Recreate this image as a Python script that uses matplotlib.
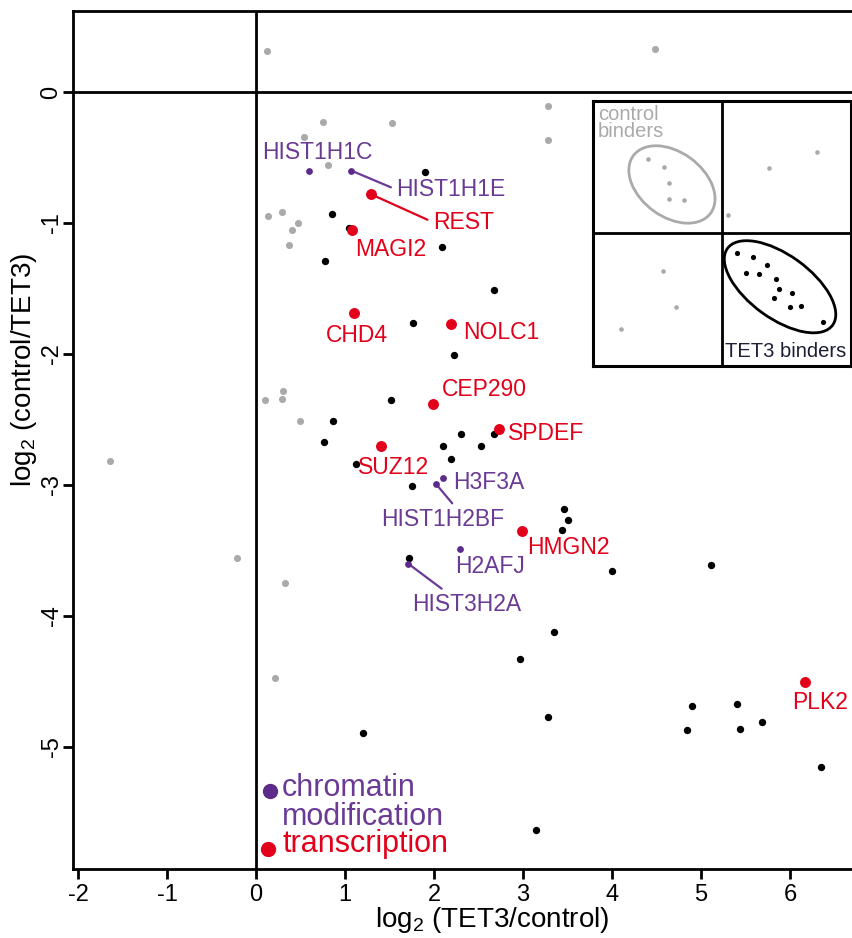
import matplotlib
matplotlib.use('Agg')
import matplotlib.pyplot as plt
from matplotlib.patches import Ellipse

plt.rcParams['font.family'] = ['Liberation Sans', 'DejaVu Sans']
plt.rcParams['axes.unicode_minus'] = False

# control binders (grey)
ctrl_x = [0.12, 0.75, 1.53, 0.54, 0.81, 0.13, 0.29, 0.47, 0.40, 0.37, 0.10, 0.30, 0.29,
          0.50, -1.64, 4.48, 3.28, 3.28, -0.21, 0.33, 0.21]
ctrl_y = [0.31, -0.23, -0.24, -0.34, -0.56, -0.95, -0.92, -1.00, -1.05, -1.17, -2.35, -2.28,
          -2.34, -2.51, -2.82, 0.33, -0.11, -0.37, -3.56, -3.75, -4.47]

# TET3 binders (black)
tet3_x = [1.90, 0.85, 1.04, 0.78, 2.09, 2.67, 1.76, 2.22, 1.52, 0.86, 0.76, 1.12, 2.30, 2.10,
          2.53, 2.67, 2.19, 1.75, 1.72, 1.20, 3.46, 3.51, 3.44, 4.00, 5.11, 3.35, 2.97, 3.28,
          4.90, 5.40, 5.69, 4.84, 5.44, 6.35, 3.15]
tet3_y = [-0.61, -0.93, -1.04, -1.29, -1.18, -1.51, -1.76, -2.01, -2.35, -2.51, -2.67, -2.84,
          -2.61, -2.70, -2.70, -2.61, -2.80, -3.01, -3.56, -4.89, -3.18, -3.27, -3.34, -3.66,
          -3.61, -4.12, -4.33, -4.77, -4.69, -4.67, -4.81, -4.87, -4.86, -5.15, -5.63]

# chromatin modification
chrom_genes = ['HIST1H1C', 'HIST1H1E', 'H3F3A', 'HIST1H2BF', 'H2AFJ', 'HIST3H2A']
chrom_x = [0.60, 1.07, 2.10, 2.02, 2.29, 1.71]
chrom_y = [-0.60, -0.60, -2.95, -2.99, -3.49, -3.60]

# transcription
trans_genes = ['REST', 'MAGI2', 'CHD4', 'NOLC1', 'CEP290', 'SPDEF', 'SUZ12', 'HMGN2', 'PLK2']
trans_x = [1.29, 1.08, 1.10, 2.19, 1.99, 2.73, 1.41, 2.99, 6.17]
trans_y = [-0.78, -1.05, -1.69, -1.77, -2.38, -2.57, -2.70, -3.35, -4.50]

# inset schematic
inset_ctrl_x = [0.424, 0.550, 0.592, 0.589, 0.703, 1.367, 1.739, 1.049, 0.545, 0.641, 0.214]
inset_ctrl_y = [1.562, 1.502, 1.381, 1.263, 1.251, 1.492, 1.613, 1.137, 0.717, 0.443, 0.279]
inset_tet3_x = [1.119, 1.240, 1.351, 1.183, 1.289, 1.419, 1.442, 1.540, 1.406, 1.530, 1.610, 1.781]
inset_tet3_y = [0.851, 0.820, 0.760, 0.704, 0.694, 0.659, 0.579, 0.551, 0.513, 0.443, 0.450, 0.334]

RED = '#e2001a'
PURPLE = '#6a3a95'
PURPLE_DOT = '#5c2a88'
GREY = '#aaaaaa'

# label placement: offset in pixels, ha, leader relpos (None = no leader)
label_pos = {
    'HIST1H1C': (8, 18, 'center', None),
    'HIST1H1E': (45, -19, 'left', (0, 0.5)),
    'H3F3A': (10, -4, 'left', None),
    'HIST1H2BF': (7, -36, 'center', (0.61, 1.0)),
    'H2AFJ': (30, -17, 'center', None),
    'HIST3H2A': (59, -41, 'center', (0.32, 1.0)),
    'REST': (62, -28, 'left', (0, 0.5)),
    'MAGI2': (3, -20, 'left', None),
    'CHD4': (3, -22, 'center', None),
    'NOLC1': (12, -9, 'left', None),
    'CEP290': (9, 14, 'left', None),
    'SPDEF': (9, -5, 'left', None),
    'SUZ12': (12, -22, 'center', None),
    'HMGN2': (5, -17, 'left', None),
    'PLK2': (15, -21, 'center', None),
}

fig = plt.figure(figsize=(8.53, 9.38), dpi=100)
ax = fig.add_axes([73 / 853, 1 - 869 / 938, 780 / 853, 858 / 938])

ax.scatter(ctrl_x, ctrl_y, s=26, color=GREY, linewidths=0, zorder=2)
ax.scatter(tet3_x, tet3_y, s=28, color='black', linewidths=0, zorder=2)
ax.scatter(chrom_x, chrom_y, s=24, color=PURPLE_DOT, linewidths=0, zorder=4)
ax.scatter(trans_x, trans_y, s=62, color=RED, linewidths=0, zorder=4)


def put_labels(genes, xs, ys, color):
    for g, x, y in zip(genes, xs, ys):
        dx, dy, ha, rel = label_pos[g]
        arrow = None
        if rel is not None:
            arrow = dict(arrowstyle='-', color=color, lw=1.6, shrinkA=2, shrinkB=0, relpos=rel)
        ax.annotate(g, (x, y), xytext=(dx, dy), textcoords='offset pixels', ha=ha, va='center',
                    color=color, fontsize=16.5, arrowprops=arrow, zorder=3)


put_labels(chrom_genes, chrom_x, chrom_y, PURPLE)
put_labels(trans_genes, trans_x, trans_y, RED)

ax.axhline(0, color='black', lw=2, zorder=1)
ax.axvline(0, color='black', lw=2, zorder=1)

ax.set_xlim(-2.056, 6.708)
ax.set_ylim(-5.931, 0.618)
ax.set_xticks(range(-2, 7))
ax.set_yticks(range(-5, 1))
ax.tick_params(direction='out', length=7, width=2, labelsize=17)
ax.tick_params(axis='y', labelrotation=90, pad=0.5)
for lab in ax.get_yticklabels():
    lab.set_va('center')
ax.spines['right'].set_visible(False)
for s in ['left', 'bottom', 'top']:
    ax.spines[s].set_linewidth(2)

fig.text(24 / 853, 1 - 370 / 938, r'log$_\mathregular{2}$ (control/TET3)', rotation=90,
         ha='center', va='center', fontsize=20)
fig.text(492 / 853, 1 - 920 / 938, r'log$_\mathregular{2}$ (TET3/control)',
         ha='center', va='center', fontsize=20)

# legend, R style
ax.plot([0.2526], [0.0909], 'o', ms=10, color=PURPLE_DOT, transform=ax.transAxes, clip_on=False)
ax.text(0.268, 0.0513, 'chromatin\nmodification', color=PURPLE, fontsize=22, va='baseline',
        linespacing=0.94, transform=ax.transAxes)
ax.plot([0.25], [0.0233], 'o', ms=10, color=RED, transform=ax.transAxes, clip_on=False)
ax.text(0.268, 0.0198, 'transcription', color=RED, fontsize=22, va='baseline', transform=ax.transAxes)

# inset
ins = fig.add_axes([593 / 853, 1 - 366 / 938, 258 / 853, 265 / 938])
ins.scatter(inset_ctrl_x, inset_ctrl_y, s=11, color=GREY, linewidths=0)
ins.scatter(inset_tet3_x, inset_tet3_y, s=14, color='black', linewidths=0)
ins.add_patch(Ellipse((0.612, 1.370), 0.74, 0.49, angle=-35, fill=False, ec=GREY, lw=2))
ins.add_patch(Ellipse((1.45, 0.598), 1.0, 0.48, angle=-35, fill=False, ec='black', lw=2))
ins.axhline(1, color='black', lw=2)
ins.axvline(1, color='black', lw=2)
ins.text(0.04, 1.97, 'control\nbinders', color=GREY, fontsize=14.5, va='top', ha='left', linespacing=0.85)
ins.text(1.496, 0.106, 'TET3 binders', color='#1e1e36', fontsize=14.5, va='center', ha='center')
ins.set_xlim(0, 2)
ins.set_ylim(0, 2)
ins.set_xticks([])
ins.set_yticks([])
for s in ins.spines.values():
    s.set_linewidth(2.2)

fig.savefig('out.png', dpi=100)
